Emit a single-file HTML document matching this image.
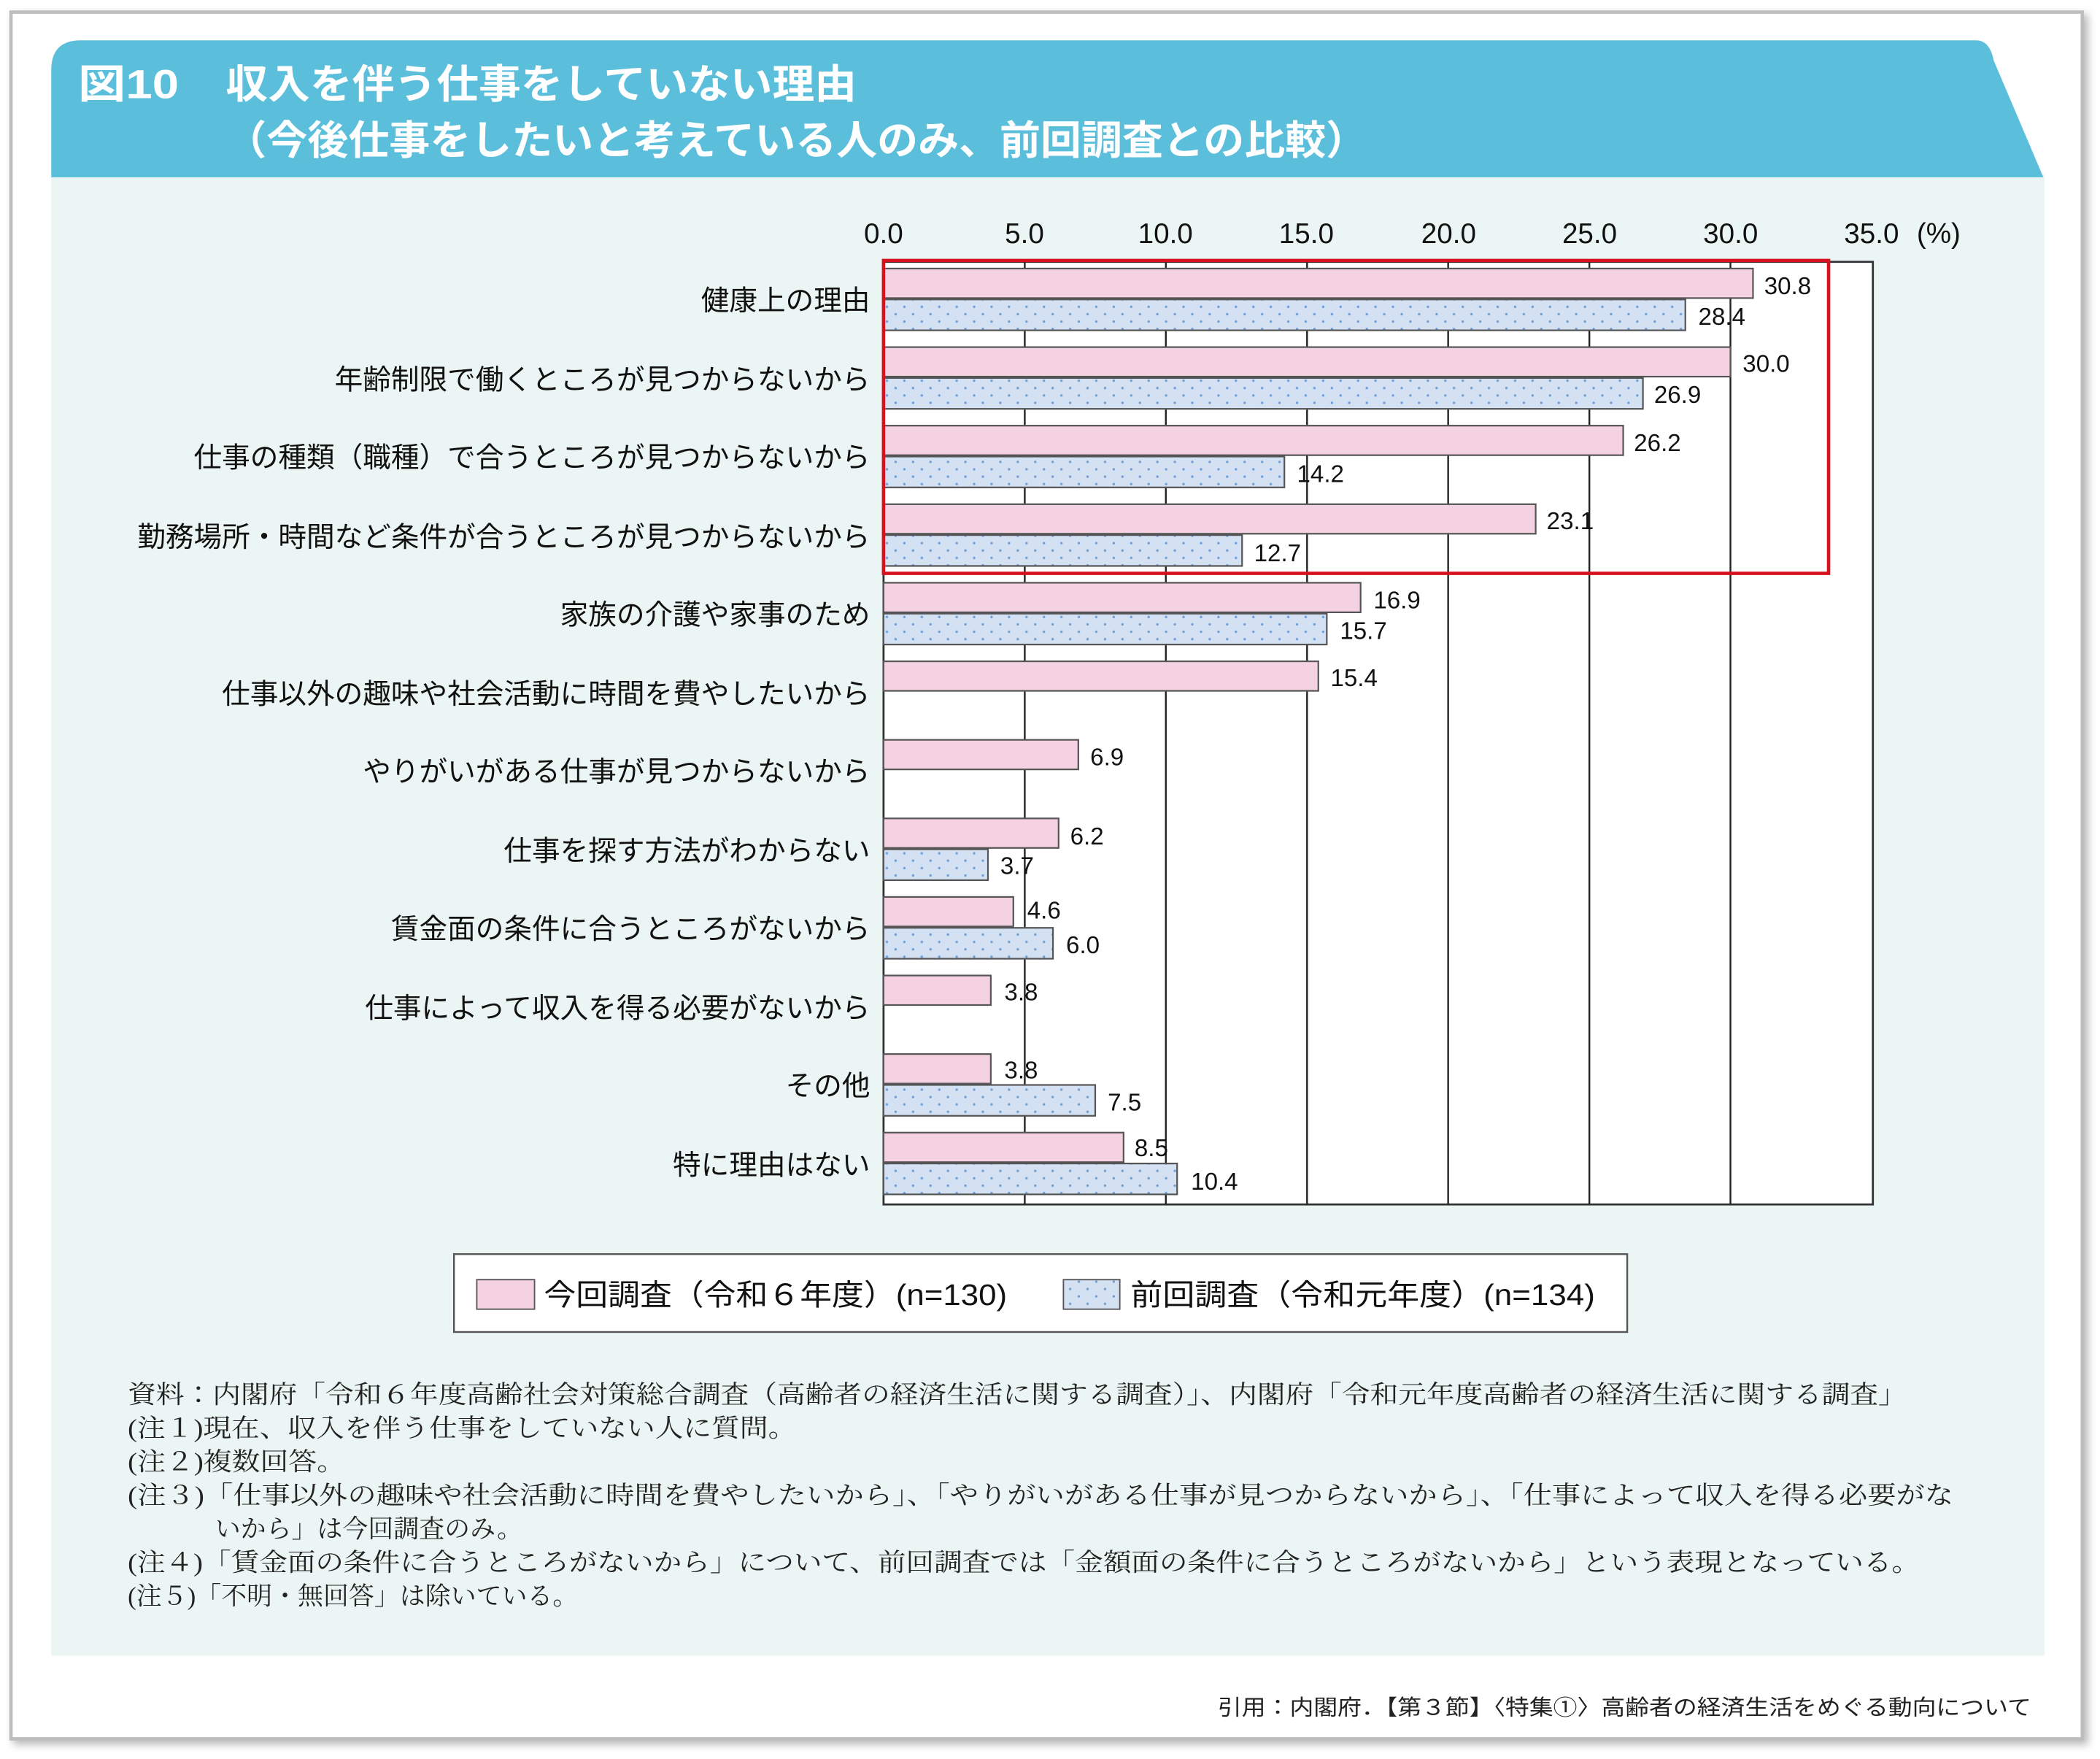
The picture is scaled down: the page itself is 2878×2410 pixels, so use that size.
<!DOCTYPE html>
<html><head><meta charset="utf-8">
<style>
html,body{margin:0;padding:0;background:#fff;}
svg{display:block;}
text{font-family:"Liberation Sans","Noto Sans CJK JP",sans-serif;}
.s{font-family:"Liberation Serif","Noto Serif CJK JP",serif;}
</style></head><body>
<svg width="2878" height="2410" viewBox="0 0 1564 1310" xmlns="http://www.w3.org/2000/svg">
<defs>
<pattern id="dots" width="13" height="11" patternUnits="userSpaceOnUse">
<rect width="13" height="11" fill="#d3e1f3"/>
<circle cx="4" cy="3" r="0.9" fill="#6f9fd6"/>
<circle cx="10.5" cy="8.5" r="0.9" fill="#6f9fd6"/>
</pattern>
<filter id="sh" x="-5%" y="-5%" width="110%" height="110%"><feDropShadow dx="3" dy="3" stdDeviation="3" flood-color="#888" flood-opacity="0.6"/></filter>
</defs>
<rect x="0" y="0" width="1564" height="1310" fill="#fff"/>
<rect x="8" y="9" width="1543" height="1286" fill="#fff" stroke="#bdbdbd" stroke-width="2.5" filter="url(#sh)"/>
<rect x="38" y="130" width="1485" height="1103" fill="#ebf5f3"/>
<path d="M38,132 L38,52 Q38,30 60,30 L1472,30 Q1482,30 1485,45 L1522,132 Z" fill="#5bbfdc"/>
<text x="58" y="73" font-size="30" font-weight="bold" fill="#fff" textLength="75" lengthAdjust="spacingAndGlyphs">図10</text>
<text x="168" y="73" font-size="30" font-weight="bold" fill="#fff" textLength="470" lengthAdjust="spacingAndGlyphs">収入を伴う仕事をしていない理由</text>
<text x="168" y="115" font-size="30" font-weight="bold" fill="#fff" textLength="850" lengthAdjust="spacingAndGlyphs">（今後仕事をしたいと考えている人のみ、前回調査との比較）</text>
<g font-size="21" fill="#111" text-anchor="middle">
<text x="658" y="181">0.0</text><text x="763" y="181">5.0</text><text x="868" y="181">10.0</text><text x="973" y="181">15.0</text><text x="1079" y="181">20.0</text><text x="1184" y="181">25.0</text><text x="1289" y="181">30.0</text><text x="1394" y="181">35.0</text>
<text x="1444" y="181">(%)</text>
</g>
<rect x="658" y="195" width="737" height="702" fill="#fff" stroke="#333" stroke-width="1.5"/>
<g stroke="#222" stroke-width="1.3">
<line x1="763.2" y1="195" x2="763.2" y2="897"/><line x1="868.3" y1="195" x2="868.3" y2="897"/><line x1="973.5" y1="195" x2="973.5" y2="897"/><line x1="1078.6" y1="195" x2="1078.6" y2="897"/><line x1="1183.8" y1="195" x2="1183.8" y2="897"/><line x1="1288.9" y1="195" x2="1288.9" y2="897"/>
</g>
<g stroke="#555" stroke-width="1.2">
<rect x="658" y="200" width="647.7" height="22" fill="#f5d2e2"/><rect x="658" y="223" width="597.3" height="23" fill="url(#dots)"/>
<rect x="658" y="258.5" width="630.9" height="22" fill="#f5d2e2"/><rect x="658" y="281.5" width="565.7" height="23" fill="url(#dots)"/>
<rect x="658" y="317" width="551.0" height="22" fill="#f5d2e2"/><rect x="658" y="340" width="298.6" height="23" fill="url(#dots)"/>
<rect x="658" y="375.5" width="485.8" height="22" fill="#f5d2e2"/><rect x="658" y="398.5" width="267.1" height="23" fill="url(#dots)"/>
<rect x="658" y="434" width="355.4" height="22" fill="#f5d2e2"/><rect x="658" y="457" width="330.2" height="23" fill="url(#dots)"/>
<rect x="658" y="492.5" width="323.9" height="22" fill="#f5d2e2"/>
<rect x="658" y="551" width="145.1" height="22" fill="#f5d2e2"/>
<rect x="658" y="609.5" width="130.4" height="22" fill="#f5d2e2"/><rect x="658" y="632.5" width="77.8" height="23" fill="url(#dots)"/>
<rect x="658" y="668" width="96.7" height="22" fill="#f5d2e2"/><rect x="658" y="691" width="126.2" height="23" fill="url(#dots)"/>
<rect x="658" y="726.5" width="79.9" height="22" fill="#f5d2e2"/>
<rect x="658" y="785" width="79.9" height="22" fill="#f5d2e2"/><rect x="658" y="808" width="157.7" height="23" fill="url(#dots)"/>
<rect x="658" y="843.5" width="178.8" height="22" fill="#f5d2e2"/><rect x="658" y="866.5" width="218.7" height="23" fill="url(#dots)"/>
</g>
<rect x="658" y="194" width="704" height="233" fill="none" stroke="#d7121e" stroke-width="2.5"/>
<g font-size="18" fill="#111">
<text x="1314" y="219">30.8</text><text x="1265" y="242">28.4</text>
<text x="1298" y="277">30.0</text><text x="1232" y="300">26.9</text>
<text x="1217" y="336">26.2</text><text x="966" y="359">14.2</text>
<text x="1152" y="394">23.1</text><text x="934" y="418">12.7</text>
<text x="1023" y="453">16.9</text><text x="998" y="476">15.7</text>
<text x="991" y="511">15.4</text>
<text x="812" y="570">6.9</text>
<text x="797" y="629">6.2</text><text x="745" y="651">3.7</text>
<text x="765" y="684">4.6</text><text x="794" y="710">6.0</text>
<text x="748" y="745">3.8</text>
<text x="748" y="803">3.8</text><text x="825" y="827">7.5</text>
<text x="845" y="861">8.5</text><text x="887" y="886">10.4</text>
</g>
<g font-size="21" fill="#111" text-anchor="end">
<text x="648" y="231">健康上の理由</text>
<text x="648" y="290">年齢制限で働くところが見つからないから</text>
<text x="648" y="348">仕事の種類（職種）で合うところが見つからないから</text>
<text x="648" y="407">勤務場所・時間など条件が合うところが見つからないから</text>
<text x="648" y="465">家族の介護や家事のため</text>
<text x="648" y="524">仕事以外の趣味や社会活動に時間を費やしたいから</text>
<text x="648" y="582">やりがいがある仕事が見つからないから</text>
<text x="648" y="641">仕事を探す方法がわからない</text>
<text x="648" y="699">賃金面の条件に合うところがないから</text>
<text x="648" y="758">仕事によって収入を得る必要がないから</text>
<text x="648" y="816">その他</text>
<text x="648" y="875">特に理由はない</text>
</g>
<rect x="338" y="934" width="874" height="58" fill="#fff" stroke="#555" stroke-width="1.3"/>
<rect x="355" y="953" width="43" height="22" fill="#f5d2e2" stroke="#555" stroke-width="1"/>
<text x="405" y="972" font-size="22" fill="#111" textLength="345" lengthAdjust="spacingAndGlyphs">今回調査（令和６年度）(n=130)</text>
<rect x="792" y="953" width="42" height="22" fill="url(#dots)" stroke="#555" stroke-width="1"/>
<text x="842" y="972" font-size="22" fill="#111" textLength="346" lengthAdjust="spacingAndGlyphs">前回調査（令和元年度）(n=134)</text>
<g class="s" font-size="19" fill="#222">
<text class="s" x="95" y="1045" textLength="1325" lengthAdjust="spacingAndGlyphs">資料：内閣府「令和６年度高齢社会対策総合調査（高齢者の経済生活に関する調査）」、内閣府「令和元年度高齢者の経済生活に関する調査」</text>
<text class="s" x="95" y="1070" textLength="498" lengthAdjust="spacingAndGlyphs">(注１)現在、収入を伴う仕事をしていない人に質問。</text>
<text class="s" x="95" y="1095" textLength="162" lengthAdjust="spacingAndGlyphs">(注２)複数回答。</text>
<text class="s" x="95" y="1120" textLength="1360" lengthAdjust="spacingAndGlyphs">(注３)「仕事以外の趣味や社会活動に時間を費やしたいから」、「やりがいがある仕事が見つからないから」、「仕事によって収入を得る必要がな</text>
<text class="s" x="160" y="1145">いから」は今回調査のみ。</text>
<text class="s" x="95" y="1170" textLength="1335" lengthAdjust="spacingAndGlyphs">(注４)「賃金面の条件に合うところがないから」について、前回調査では「金額面の条件に合うところがないから」という表現となっている。</text>
<text class="s" x="95" y="1195">(注５)「不明・無回答」は除いている。</text>
</g>
<text x="907" y="1277" font-size="16" fill="#222" textLength="606" lengthAdjust="spacingAndGlyphs">引用：内閣府．【第３節】〈特集①〉高齢者の経済生活をめぐる動向について</text>
</svg>
</body></html>
